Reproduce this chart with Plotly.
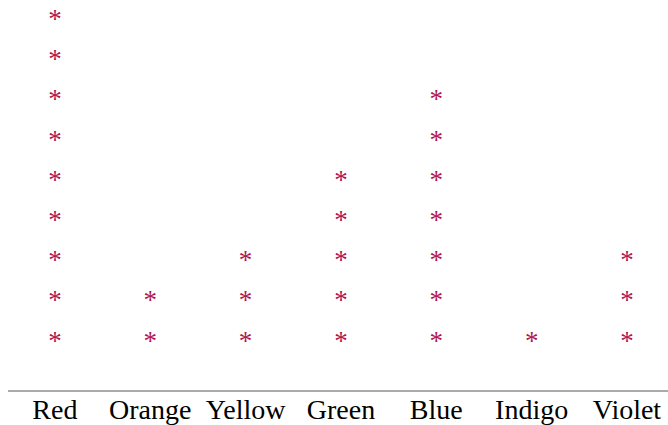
import plotly.graph_objects as go

categories = ["Red", "Orange", "Yellow", "Green", "Blue", "Indigo", "Violet"]
counts = [9, 2, 3, 5, 7, 1, 3]

xs, ys = [], []
for cat, n in zip(categories, counts):
    for k in range(1, n + 1):
        xs.append(cat)
        ys.append(k)

fig = go.Figure(go.Scatter(
    x=xs, y=ys, mode="text", text=["*"] * len(xs),
    textposition="middle center",
    textfont=dict(family="Liberation Serif", size=27, color="#b3164f"),
    hoverinfo="skip", showlegend=False,
))

fig.update_layout(
    width=668, height=425,
    margin=dict(l=8, r=0, t=0, b=35),
    paper_bgcolor="white", plot_bgcolor="white",
    font=dict(family="Liberation Serif", size=28, color="black"),
)
fig.update_xaxes(
    type="category", categoryorder="array", categoryarray=categories,
    range=[-0.492, 6.43], showgrid=False, zeroline=False, automargin=False,
    showline=True, linecolor="#aaaaaa", linewidth=2,
    ticks="", ticklabelstandoff=-7,
    tickfont=dict(family="Liberation Serif", size=28, color="black"),
)
fig.update_yaxes(
    range=[-0.168, 9.522], visible=False, showgrid=False, zeroline=False,
)

fig.write_html(
    "out.html",
    config={"displayModeBar": False},
    post_script="document.body.style.margin='0';document.body.style.overflow='hidden';",
)
